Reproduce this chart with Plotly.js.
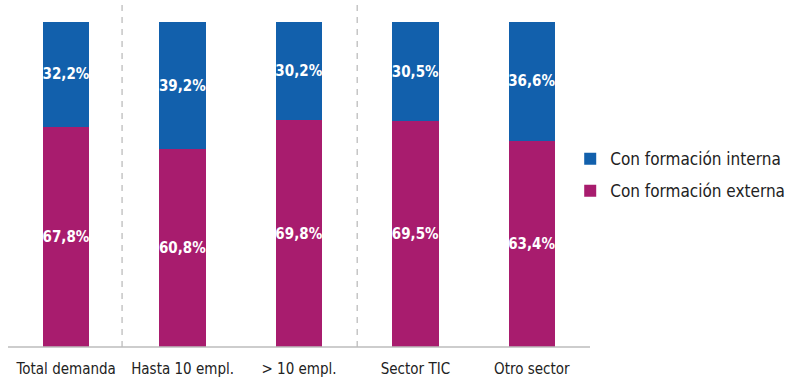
<!DOCTYPE html>
<html><head><meta charset="utf-8">
<script src="https://cdn.plot.ly/plotly-3.0.1.min.js"></script>
<style>body{margin:0;padding:0;background:#fff}#chart{width:790px;height:381px}</style>
</head><body><div id="chart"></div>
<script>
const categories = ["Total demanda", "Hasta 10 empl.", "> 10 empl.", "Sector TIC", "Otro sector"];
const externa = [67.8, 60.8, 69.8, 69.5, 63.4];
const interna = [32.2, 39.2, 30.2, 30.5, 36.6];
const seriesNames = ["Con formación externa", "Con formación interna"];
const FONT = "DejaVu Sans Condensed, Roboto, sans-serif";

const common = {
  type: "bar", x: categories, textposition: "inside", insidetextanchor: "middle",
  textangle: 0, constraintext: "none", texttemplate: "%{y:.1f}%",
  textfont: {family: FONT, size: 15, color: "#ffffff", weight: "bold"},
  hoverinfo: "skip"
};
const traces = [
  Object.assign({}, common, {y: externa, name: seriesNames[0], marker: {color: "#A81C6E"}, legendgroup: "a", legendrank: 2}),
  Object.assign({}, common, {y: interna, name: seriesNames[1], marker: {color: "#1260AC"}, legendgroup: "b", legendrank: 1})
];
const layout = {
  width: 790, height: 381,
  margin: {l: 8, r: 200, t: 22, b: 34, autoexpand: false},
  barmode: "stack", bargap: 0.6,
  separators: ",.",
  showlegend: true,
  legend: {x: 0.966, xanchor: "left", y: 0.529, yanchor: "middle", traceorder: "grouped",
    tracegroupgap: 7, font: {family: FONT, size: 17, color: "#222"}, itemwidth: 30},
  xaxis: {showgrid: false, zeroline: false, showline: false, ticks: "", tickangle: 0,
    ticklabelstandoff: 11,
    tickfont: {family: FONT, size: 15, color: "#222"}, fixedrange: true},
  yaxis: {range: [0, 100], visible: false, fixedrange: true},
  shapes: [
    {type: "line", xref: "paper", yref: "paper", x0: 0, x1: 1, y0: 0, y1: 0, line: {color: "#bdbdbd", width: 1.5}},
    {type: "line", xref: "x", yref: "paper", x0: 0.48, x1: 0.48, y0: 0, y1: 1.055, line: {color: "#bdbdbd", width: 1.3, dash: "6px,6px"}},
    {type: "line", xref: "x", yref: "paper", x0: 2.5, x1: 2.5, y0: 0, y1: 1.055, line: {color: "#bdbdbd", width: 1.3, dash: "6px,6px"}}
  ],
  paper_bgcolor: "#fff", plot_bgcolor: "#fff"
};
Plotly.newPlot("chart", traces, layout, {displayModeBar: false, staticPlot: true});
</script></body></html>
